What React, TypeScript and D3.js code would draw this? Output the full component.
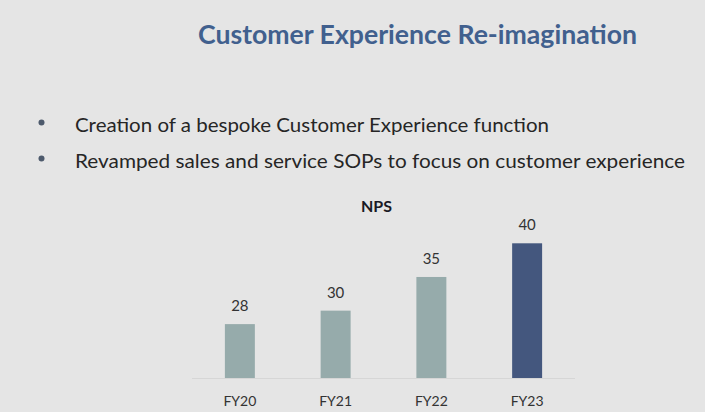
import React from "react";
import * as d3 from "d3";

const title = "Customer Experience Re-imagination";
const bullets = [
  "Creation of a bespoke Customer Experience function",
  "Revamped sales and service SOPs to focus on customer experience",
];
const chartTitle = "NPS";
const categories = ["FY20", "FY21", "FY22", "FY23"];
const npsValues = [28, 30, 35, 40];

const W = 705;
const H = 412;
const FONT = "Lato, 'Open Sans', sans-serif";

export default function App() {
  const x = d3
    .scaleBand<string>()
    .domain(categories)
    .range([192, 575])
    .paddingInner(0.687)
    .paddingOuter(0.3435);
  const y = d3.scaleLinear().domain([20, 40]).range([378, 243.3]);

  const bulletY = [132, 168];
  const bulletLen = [474, 610];

  return (
    <div style={{ position: "fixed", left: 0, top: 0, width: W, height: H }}>
      <svg width={W} height={H} style={{ display: "block" }}>
        <rect x={0} y={0} width={W} height={H} fill="#e5e5e5" />
        <text
          x={198}
          y={44}
          fontFamily={FONT}
          fontWeight="bold"
          fontSize={26}
          fill="#41608e"
          textLength={439}
          lengthAdjust="spacingAndGlyphs"
        >
          {title}
        </text>
        {bullets.map((b, i) => (
          <g key={b}>
            <circle cx={41.5} cy={bulletY[i] - 9.5} r={3} fill="#4d5a6c" />
            <text
              x={75}
              y={bulletY[i]}
              fontFamily={FONT}
              fontSize={19}
              fill="#262626"
              textLength={bulletLen[i]}
              lengthAdjust="spacingAndGlyphs"
            >
              {b}
            </text>
          </g>
        ))}
        <text
          x={376.5}
          y={211.5}
          textAnchor="middle"
          fontFamily={FONT}
          fontWeight="bold"
          fontSize={16}
          fill="#1a1a24"
        >
          {chartTitle}
        </text>
        <line x1={192} x2={575} y1={378.5} y2={378.5} stroke="#d6d6d6" strokeWidth={1} />
        {categories.map((c, i) => {
          const bx = x(c)!;
          const top = y(npsValues[i]);
          const cx = bx + x.bandwidth() / 2;
          return (
            <g key={c}>
              <rect
                x={bx}
                y={top}
                width={x.bandwidth()}
                height={y(20) - top}
                fill={i === categories.length - 1 ? "#44577e" : "#96abab"}
              />
              <text
                x={cx}
                y={top - 13}
                textAnchor="middle"
                fontFamily={FONT}
                fontSize={15}
                fill="#333333"
              >
                {npsValues[i]}
              </text>
              <text
                x={cx}
                y={406}
                textAnchor="middle"
                fontFamily={FONT}
                fontSize={14}
                fill="#333333"
              >
                {c}
              </text>
            </g>
          );
        })}
      </svg>
    </div>
  );
}
